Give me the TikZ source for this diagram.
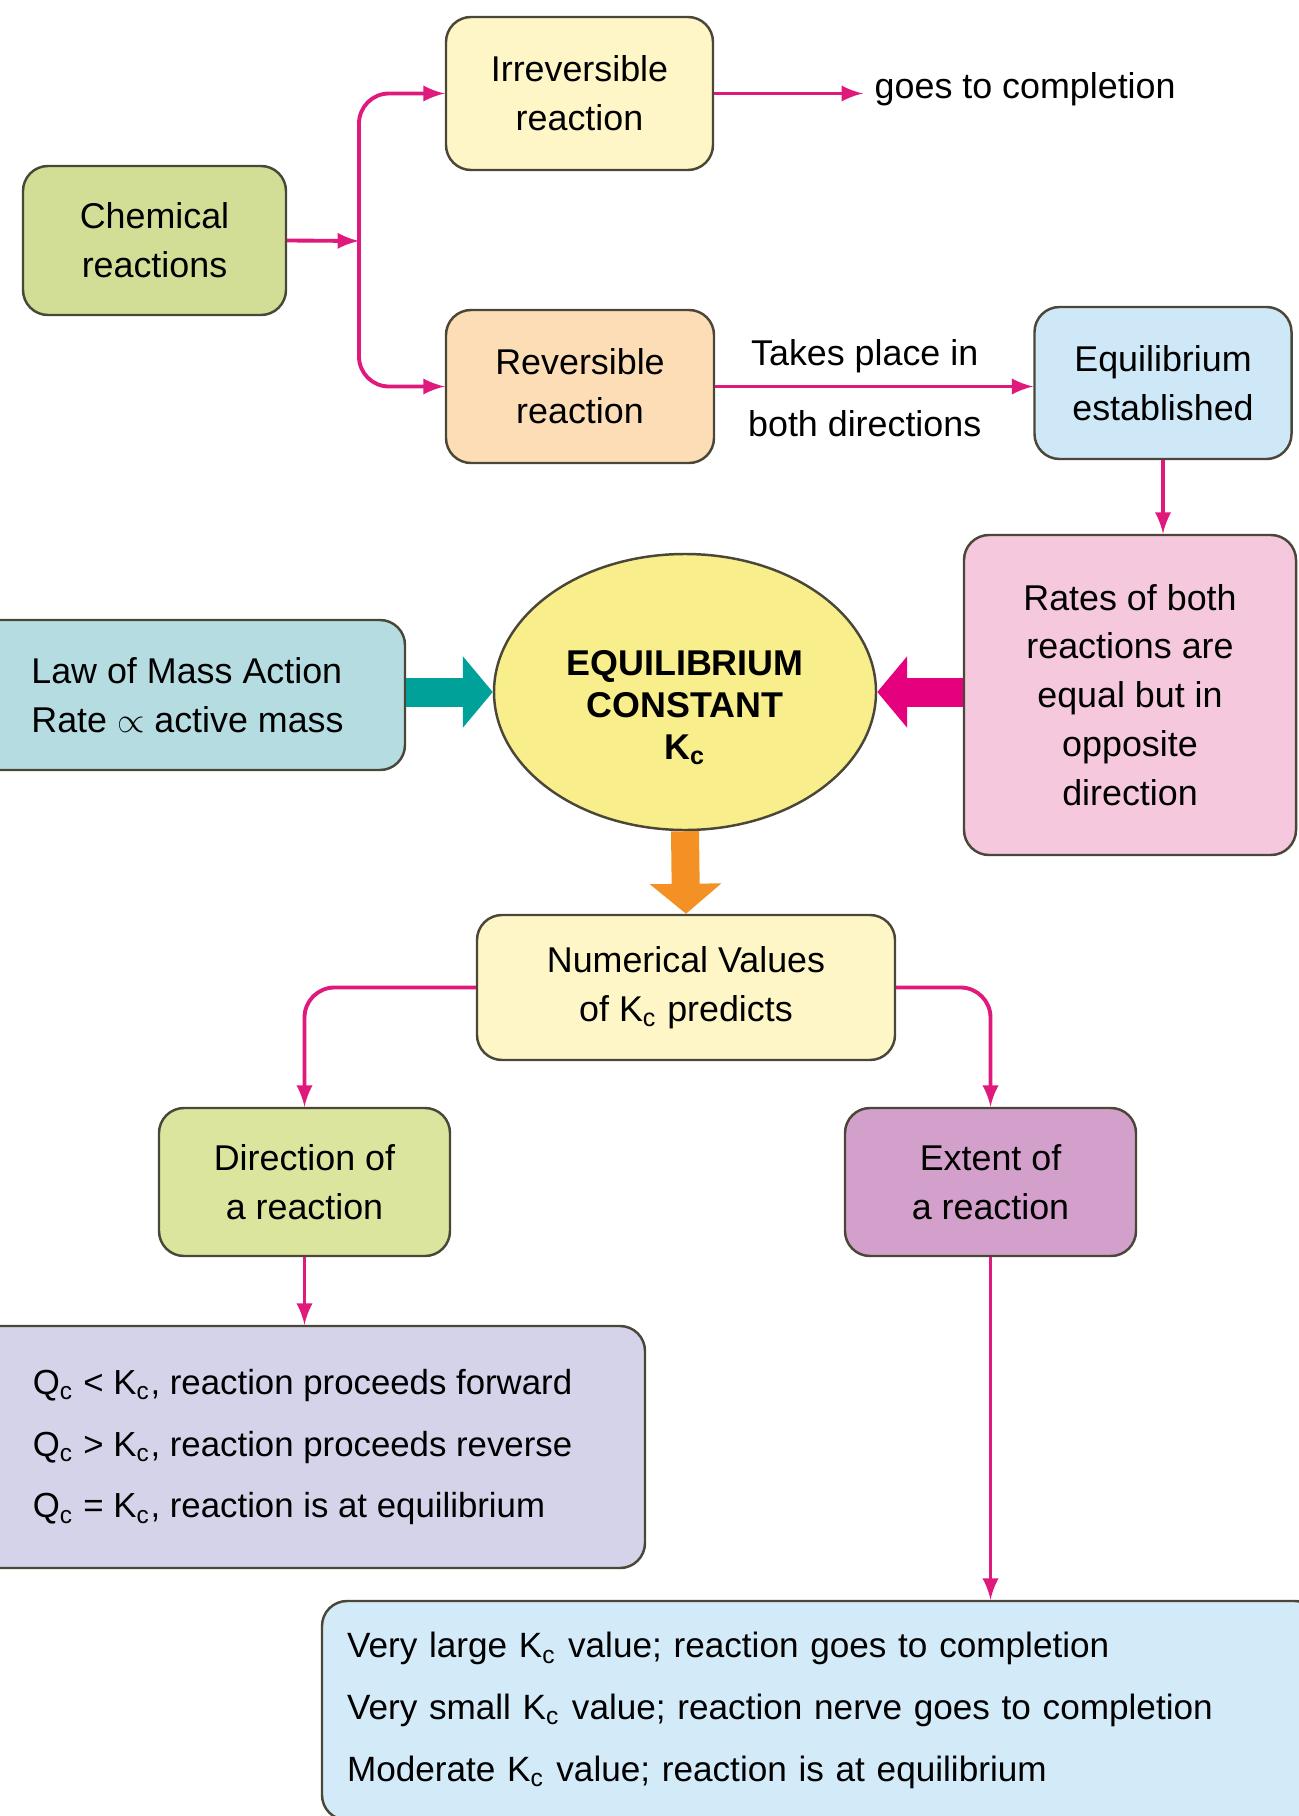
\documentclass[tikz,border=0pt]{standalone}
\usepackage{fontspec}
\setmainfont{Liberation Sans}
\usetikzlibrary{arrows.meta,shapes,calc,positioning,arrows}
\definecolor{linkpink}{HTML}{E0197D}
\definecolor{edgegray}{HTML}{4A4638}
\definecolor{chemgreen}{HTML}{D2DE96}
\definecolor{paleyellow}{HTML}{FEF6C6}
\definecolor{peach}{HTML}{FCDDB6}
\definecolor{skyblue}{HTML}{CFE8F8}
\definecolor{ratespink}{HTML}{F6C8DD}
\definecolor{constyellow}{HTML}{F8EE8C}
\definecolor{lawteal}{HTML}{B5DDE1}
\definecolor{dirgreen}{HTML}{DCE59E}
\definecolor{extpurple}{HTML}{D3A0CB}
\definecolor{qlavender}{HTML}{D4D3EA}
\definecolor{klightblue}{HTML}{D3EAF8}
\definecolor{fatteal}{HTML}{00A199}
\definecolor{fatpink}{HTML}{E5007D}
\definecolor{fatorange}{HTML}{F39124}
\tikzset{
	box/.style={draw=edgegray,line width=0.7pt,rounded corners=0.25cm,align=center,inner sep=2pt},
	link/.style={linkpink,line width=1.1pt,-latex},
	fatarrow/.style={line width=2.9mm,-{Triangle[length=3mm,width=7mm]}},
}
\newcommand{\csub}{\textsubscript{c}}

\begin{document}
\begin{tikzpicture}[font=\fontsize{10.2}{13.9}\selectfont]
				\useasboundingbox (0,0) rectangle (12.98,-18.16);
				
				\node (Chem) at (1.545,-2.405) [box,fill=chemgreen,minimum width=2.63cm,minimum height=1.49cm] {Chemical\\reactions};
				\node (Irrev) at (5.795,-0.935) [box,fill=paleyellow,minimum width=2.67cm,minimum height=1.53cm] {Irreversible\\reaction};
				\node (Rev) at (5.80,-3.865) [box,fill=peach,minimum width=2.68cm,minimum height=1.53cm] {Reversible\\reaction};
				\node (Goes) at (8.63,-0.89) [anchor=west,inner xsep=0.11cm] {goes to completion};
				\node (Equil) at (11.63,-3.83) [box,fill=skyblue,minimum width=2.57cm,minimum height=1.52cm] {Equilibrium\\established};
				\coordinate (Split) at (3.59,-2.41);
				
				\node (Const) at (6.85,-6.92) [ellipse,draw=edgegray,line width=0.7pt,fill=constyellow,minimum width=3.82cm,minimum height=2.76cm,inner sep=0pt,align=center,font=\fontsize{10.2}{12}\selectfont\bfseries] {\rule{0pt}{0.56cm}EQUILIBRIUM\\CONSTANT\\K\csub};
				\node (Law) at (1.875,-6.95) [box,fill=lawteal,minimum width=4.35cm,minimum height=1.5cm,align=left] {Law of Mass Action\\Rate $\propto$ active mass};
				\node (Rates) at (11.30,-6.95) [box,fill=ratespink,minimum width=3.32cm,minimum height=3.2cm] {Rates of both\\reactions are\\equal but in\\opposite\\direction};
				
				\node (Num) at (6.86,-9.875) [box,fill=paleyellow,minimum width=4.18cm,minimum height=1.45cm] {Numerical Values\\of K\csub{} predicts};
				\node (Dir) at (3.045,-11.82) [box,fill=dirgreen,minimum width=2.91cm,minimum height=1.48cm] {Direction of\\a reaction};
				\node (Ext) at (9.905,-11.82) [box,fill=extpurple,minimum width=2.91cm,minimum height=1.48cm] {Extent of\\a reaction};
				
				\node (Qbox) at (3.025,-14.47) [box,fill=qlavender,minimum width=6.85cm,minimum height=2.42cm,align=left,font=\fontsize{9.9}{17.6}\selectfont] {Q\csub{} < K\csub, reaction proceeds forward\\Q\csub{} > K\csub, reaction proceeds reverse\\Q\csub{} = K\csub, reaction is at equilibrium};
				\node (Kbox) at (8.21,-17.105) [box,fill=klightblue,minimum height=2.19cm,text width=9.48cm,inner xsep=0.25cm,align=left,font=\fontsize{10}{17.6}\selectfont] {Very large K\csub{} value; reaction goes to completion\\Very small K\csub{} value; reaction nerve goes to completion\\Moderate K\csub{} value; reaction is at equilibrium};
				
				\draw[link] (Chem.east) -- (Split);
				\draw[link,rounded corners=0.3cm] (Split) |- (Irrev.west);
				\draw[link,rounded corners=0.3cm] (Split) |- (Rev.west);
				\draw[link] (Irrev.east) -- (Irrev.east -| Goes.west);
				\draw[link] (Rev.east) -- node[above=0cm,pos=0.47,black]{Takes place in} node[below=0.1cm,pos=0.47,black]{both directions} (Rev.east -| Equil.west);
				\draw[link] (Equil.south) -- (Equil.south |- Rates.north);
				
				\draw[fatarrow,fatteal] (Law.east |- Const.west) -- (Const.west);
				\draw[fatarrow,fatpink] (Rates.west |- Const.east) -- (Const.east);
				\draw[fatarrow,fatorange,line width=2.8mm] (Const.south) -- (Num.north);
				
				\draw[link,rounded corners=0.3cm] (Num.west) -| (Dir.north);
				\draw[link,rounded corners=0.3cm] (Num.east) -| (Ext.north);
				\draw[link] (Dir.south) -- (Dir.south |- Qbox.north);
				\draw[link] (Ext.south) -- (Ext.south |- Kbox.north);
				
				\end{tikzpicture}
\end{document}
